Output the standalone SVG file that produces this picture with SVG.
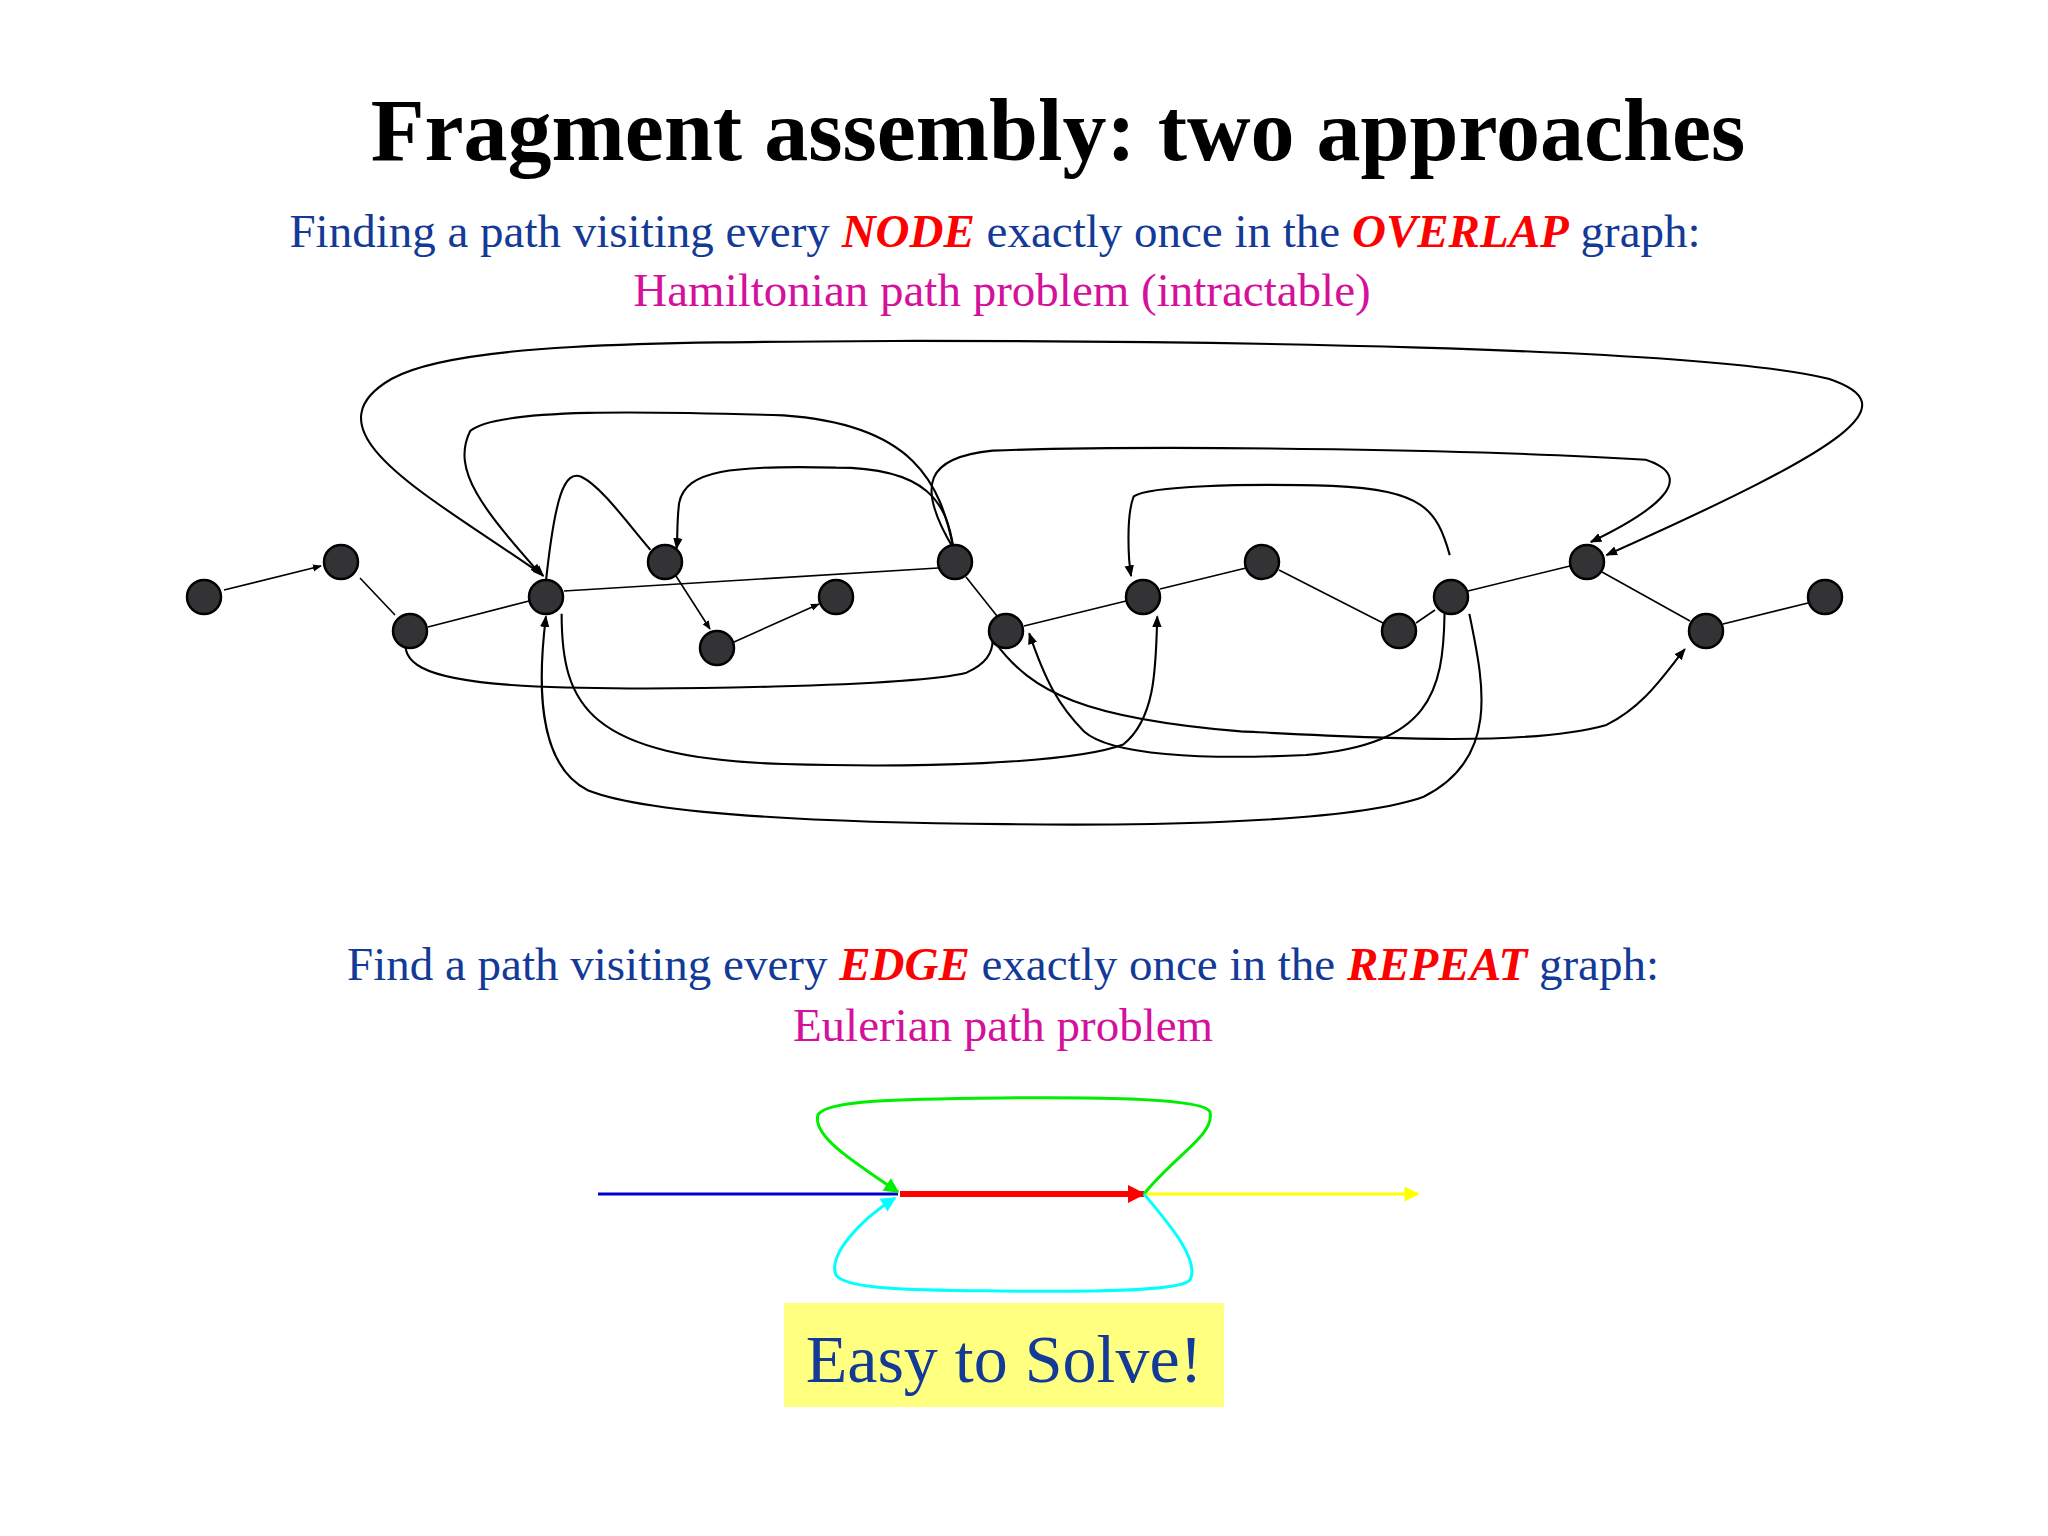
<svg xmlns="http://www.w3.org/2000/svg" width="2048" height="1536" viewBox="0 0 2048 1536">
<style>
.t{font-family:"Liberation Serif",serif}
.n{fill:#333336;stroke:#000;stroke-width:2.5}
.e{fill:none;stroke:#000;stroke-width:1.6}
.k{fill:#d4119b}
.b{fill:#123a96}
.r{fill:#ff0000;font-weight:bold;font-style:italic}
</style>
<defs>
<marker id="a" viewBox="0 0 10 10" refX="9" refY="5" markerWidth="9" markerHeight="9" markerUnits="userSpaceOnUse" orient="auto"><path d="M0,1 L10,5 L0,9z" fill="#000"/></marker>
<marker id="ag" viewBox="0 0 10 10" refX="9" refY="5" markerWidth="6" markerHeight="5" orient="auto"><path d="M0,0 L10,5 L0,10z" fill="#00ee00"/></marker>
<marker id="ac" viewBox="0 0 10 10" refX="9" refY="5" markerWidth="6" markerHeight="5" orient="auto"><path d="M0,0 L10,5 L0,10z" fill="#00ffff"/></marker>
<marker id="ar" viewBox="0 0 10 10" refX="9" refY="5" markerWidth="3" markerHeight="3" orient="auto"><path d="M0,0 L10,5 L0,10z" fill="#ff0000"/></marker>
<marker id="ay" viewBox="0 0 10 10" refX="9" refY="5" markerWidth="6" markerHeight="5" orient="auto"><path d="M0,0 L10,5 L0,10z" fill="#ffff00"/></marker>
</defs>
<rect width="2048" height="1536" fill="#fff"/>
<text class="t" x="1058" y="160" font-size="88" font-weight="bold" text-anchor="middle">Fragment assembly: two approaches</text>
<text class="t b" x="995" y="247" font-size="47" text-anchor="middle">Finding a path visiting every <tspan class="r">NODE</tspan> exactly once in the <tspan class="r">OVERLAP</tspan> graph:</text>
<text class="t k" x="1002" y="306" font-size="47" text-anchor="middle">Hamiltonian path problem (intractable)</text>
<text class="t b" x="1003" y="980" font-size="47" text-anchor="middle">Find a path visiting every <tspan class="r">EDGE</tspan> exactly once in the <tspan class="r">REPEAT</tspan> graph:</text>
<text class="t k" x="1003" y="1041" font-size="47" text-anchor="middle">Eulerian path problem</text>
<g id="connectors">
<g class="e">
<path d="M224,590 L321,566" marker-end="url(#a)"/>
<path d="M360,578 L395,615"/>
<path d="M428,627 L529,601"/>
<path d="M676,576 L710,629" marker-end="url(#a)"/>
<path d="M734,642 L819,604" marker-end="url(#a)"/>
<path d="M564,591 L938,568"/>
<path d="M966,577 L997,616"/>
<path d="M1024,626 L1126,601"/>
<path d="M1160,589 L1246,568"/>
<path d="M1279,570 L1383,623"/>
<path d="M1416,623 L1435,610"/>
<path d="M1468,591 L1570,566"/>
<path d="M1602,572 L1690,621"/>
<path d="M1723,624 L1808,603"/>
</g>
<g class="e" transform="scale(1.3061)">
<path d="M415,440 C330,380 230,330 300,290 C350,262 500,262 700,261 C900,261 1300,265 1400,290 C1460,310 1420,340 1230,425" marker-end="url(#a)"/>
<path d="M415,440 L416,441" marker-end="url(#a)"/>
<path d="M730,420 C720,370 700,325 600,318 C500,315 380,312 360,330 C345,360 370,390 414,440" marker-end="url(#a)"/>
<path d="M730,420 C700,370 710,350 760,345 C900,340 1150,345 1260,352 C1300,365 1270,390 1218,415" marker-end="url(#a)"/>
<path d="M418,445 C425,380 432,360 445,365 C460,372 480,400 498,421"/>
<path d="M730,420 C725,385 710,358 640,358 C560,356 525,360 520,385 C518,400 519,412 518,420" marker-end="url(#a)"/>
<path d="M1110,425 C1100,390 1090,375 1020,372 C950,370 880,372 868,380 C862,395 864,430 866,441" marker-end="url(#a)"/>
<path d="M310,490 C310,505 315,520 400,525 C500,530 700,525 740,515 C755,508 760,500 760,490"/>
<path d="M430,470 C430,540 450,580 600,585 C700,588 820,585 860,570 C885,550 885,510 886,472" marker-end="url(#a)"/>
<path d="M762,492 C790,530 830,550 950,560 C1050,565 1170,572 1230,555 C1260,540 1275,515 1290,497" marker-end="url(#a)"/>
<path d="M1106,470 C1105,530 1095,570 1000,578 C920,582 850,578 830,560 C810,540 800,520 788,485" marker-end="url(#a)"/>
<path d="M1125,470 C1135,520 1150,580 1090,610 C1030,632 850,632 770,631 C650,630 500,625 450,605 C410,585 412,520 418,472" marker-end="url(#a)"/>
</g>
</g>
<g id="nodes">
<ellipse id="n1" class="n" cx="204" cy="597" rx="17" ry="17"/>
<ellipse id="n2" class="n" cx="341" cy="562" rx="17" ry="17"/>
<ellipse id="n3" class="n" cx="410" cy="631" rx="17" ry="17"/>
<ellipse id="n4" class="n" cx="546" cy="597" rx="17" ry="17"/>
<ellipse id="n5" class="n" cx="665" cy="562" rx="17" ry="17"/>
<ellipse id="n6" class="n" cx="717" cy="648" rx="17" ry="17"/>
<ellipse id="n7" class="n" cx="836" cy="597" rx="17" ry="17"/>
<ellipse id="n8" class="n" cx="955" cy="562" rx="17" ry="17"/>
<ellipse id="n9" class="n" cx="1006" cy="631" rx="17" ry="17"/>
<ellipse id="n10" class="n" cx="1143" cy="597" rx="17" ry="17"/>
<ellipse id="n11" class="n" cx="1262" cy="562" rx="17" ry="17"/>
<ellipse id="n12" class="n" cx="1399" cy="631" rx="17" ry="17"/>
<ellipse id="n13" class="n" cx="1451" cy="597" rx="17" ry="17"/>
<ellipse id="n14" class="n" cx="1587" cy="562" rx="17" ry="17"/>
<ellipse id="n15" class="n" cx="1706" cy="631" rx="17" ry="17"/>
<ellipse id="n16" class="n" cx="1825" cy="597" rx="17" ry="17"/>
</g>
<g id="repeat-graph" fill="none">
<path d="M598,1194 L898,1194" stroke="#0000cc" stroke-width="3"/>
<path d="M900,1194 L1144,1194" stroke="#ff0000" stroke-width="6" marker-end="url(#ar)"/>
<path d="M1144,1194 L1418,1194" stroke="#ffff00" stroke-width="3" marker-end="url(#ay)"/>
<path d="M1144,1194 C1175,1155 1215,1135 1210,1112 C1205,1098 1100,1097 1000,1098 C900,1099 825,1100 818,1115 C812,1135 850,1160 898,1192" stroke="#00ee00" stroke-width="3" marker-end="url(#ag)"/>
<path d="M1144,1194 C1170,1225 1200,1260 1190,1280 C1180,1292 1080,1292 1000,1291 C920,1290 845,1290 836,1275 C828,1255 860,1220 895,1198" stroke="#00ffff" stroke-width="3" marker-end="url(#ac)"/>
</g>
<g id="easy">
<rect x="784" y="1303" width="440" height="104" fill="#ffff80"/>
<text class="t" x="1004" y="1382" font-size="68" fill="#123a96" text-anchor="middle">Easy to Solve!</text>
</g>
</svg>
